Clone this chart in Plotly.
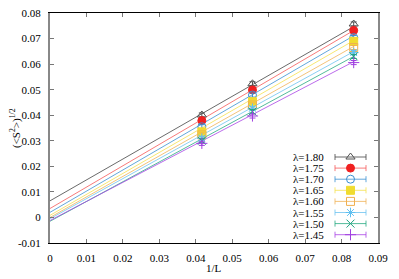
import plotly.graph_objects as go

# ---- data ----
inv_L = [1/24, 1/18, 1/12]
lambdas = ["1.80", "1.75", "1.70", "1.65", "1.60", "1.55", "1.50", "1.45"]
s_vals = [
    [0.0401, 0.0523, 0.0757],
    [0.0379, 0.0499, 0.0732],
    [0.0355, 0.0479, 0.0704],
    [0.0335, 0.0453, 0.0689],
    [0.0323, 0.0440, 0.0665],
    [0.0310, 0.0427, 0.0645],
    [0.0300, 0.0414, 0.0630],
    [0.0290, 0.0397, 0.0606],
]
s_err = [0.0008, 0.0008, 0.0008]
fit_intercept = [0.0065, 0.0035, 0.0020, 0.0008, 0.0000, -0.0005, -0.0015, -0.0012]
fit_slope = [0.818, 0.836, 0.829, 0.821, 0.803, 0.785, 0.774, 0.746]
x_ticks = [0, 0.01, 0.02, 0.03, 0.04, 0.05, 0.06, 0.07, 0.08, 0.09]
x_tick_text = ["0", "0.01", "0.02", "0.03", "0.04", "0.05", "0.06", "0.07", "0.08", "0.09"]
y_ticks = [-0.01, 0, 0.01, 0.02, 0.03, 0.04, 0.05, 0.06, 0.07, 0.08]
y_tick_text = ["-0.01", "0", "0.01", "0.02", "0.03", "0.04", "0.05", "0.06", "0.07", "0.08"]

# ---- styles ----
colors = ["#505050", "#f02020", "#3a8fd0", "#f0dc30", "#f0b050", "#60c0f0", "#20a080", "#a040e0"]
line_colors = ["rgba(80,80,80,0.85)", "rgba(245,90,90,0.8)", "rgba(60,145,210,0.8)",
               "rgba(245,225,80,0.8)", "rgba(240,180,90,0.8)", "rgba(110,195,240,0.8)",
               "rgba(40,170,130,0.8)", "rgba(170,70,230,0.8)"]
symbols = ["triangle-up-open", "circle", "circle-open", "square", "square-open",
           "asterisk-open", "x-thin-open", "cross-thin-open"]
FONT = "Liberation Serif, Times New Roman, serif"

L, R, T, B = 50, 21, 13, 36
W, H = 399, 279
PW, PH = W - L - R, H - T - B

fig = go.Figure()
x_end = max(inv_L)
for i, lam in enumerate(lambdas):
    fig.add_trace(go.Scatter(
        x=[0, x_end], y=[fit_intercept[i], fit_intercept[i] + fit_slope[i] * x_end],
        mode="lines", line=dict(color=line_colors[i], width=1),
        showlegend=False, hoverinfo="skip"))
for i, lam in enumerate(lambdas):
    fig.add_trace(go.Scatter(
        x=inv_L, y=s_vals[i], mode="markers",
        marker=dict(symbol=symbols[i], size=8, color=colors[i],
                    line=dict(color=colors[i], width=1)),
        error_y=dict(type="data", array=s_err, color=colors[i], thickness=1, width=3),
        showlegend=False, name="λ=" + lam))

# ---- custom gnuplot-style key (pixel coordinate overlay axes) ----
row0, dy = 157, 11.1
sx0, sx1, sxc, tx = 335, 366, 350.5, 326
annotations = []
for i, lam in enumerate(lambdas):
    yy = row0 + dy * i
    fig.add_trace(go.Scatter(
        x=[sx0, sx1, None, sx0, sx0, None, sx1, sx1],
        y=[yy, yy, None, yy - 3, yy + 3, None, yy - 3, yy + 3],
        xaxis="x2", yaxis="y2", mode="lines",
        line=dict(color=line_colors[i], width=1), showlegend=False, hoverinfo="skip"))
    fig.add_trace(go.Scatter(
        x=[sxc], y=[yy], xaxis="x2", yaxis="y2", mode="markers",
        marker=dict(symbol=symbols[i], size=8, color=colors[i],
                    line=dict(color=colors[i], width=1)),
        showlegend=False, hoverinfo="skip"))
    annotations.append(dict(x=tx, y=yy, xref="x2", yref="y2", text="λ=" + lam,
                            showarrow=False, xanchor="right", yanchor="middle",
                            font=dict(family=FONT, size=11, color="#000")))

annotations.append(dict(x=(15 - L) / PW, y=0.5, xref="paper", yref="paper",
                        text="(&lt;S<sup>2</sup>&gt;)<sup>1/2</sup>", textangle=-90,
                        showarrow=False, xanchor="center", yanchor="middle",
                        font=dict(family=FONT, size=11, color="#000")))
annotations.append(dict(x=0.5, y=(T + PH - 268) / PH, xref="paper", yref="paper",
                        text="1/L", showarrow=False, xanchor="center", yanchor="middle",
                        font=dict(family=FONT, size=11, color="#000")))

fig.update_layout(
    width=W, height=H,
    margin=dict(l=L, r=R, t=T, b=B),
    paper_bgcolor="white", plot_bgcolor="white",
    font=dict(family=FONT, size=11, color="#000"),
    showlegend=False,
    annotations=annotations,
    xaxis=dict(range=[0, 0.09], tickvals=x_ticks, ticktext=x_tick_text,
               showgrid=False, zeroline=False, showline=True, linecolor="#000", linewidth=1,
               mirror="ticks", ticks="inside", ticklen=4, tickcolor="#777",
               ticklabelstandoff=5, automargin=False,
               tickfont=dict(family=FONT, size=11, color="#000")),
    yaxis=dict(range=[-0.01, 0.08], tickvals=y_ticks, ticktext=y_tick_text,
               showgrid=False, zeroline=False, showline=True, linecolor="#888", linewidth=2,
               mirror="ticks", ticks="inside", ticklen=4, tickcolor="#777",
               ticklabelstandoff=5, automargin=False,
               tickfont=dict(family=FONT, size=11, color="#000")),
    xaxis2=dict(range=[L, W - R], overlaying="x", visible=False, fixedrange=True),
    yaxis2=dict(range=[H - B, T], overlaying="y", visible=False, fixedrange=True),
)

fig.write_html("out.html", config={"displayModeBar": False},
               post_script="document.body.style.margin='0';document.body.style.padding='0';")
